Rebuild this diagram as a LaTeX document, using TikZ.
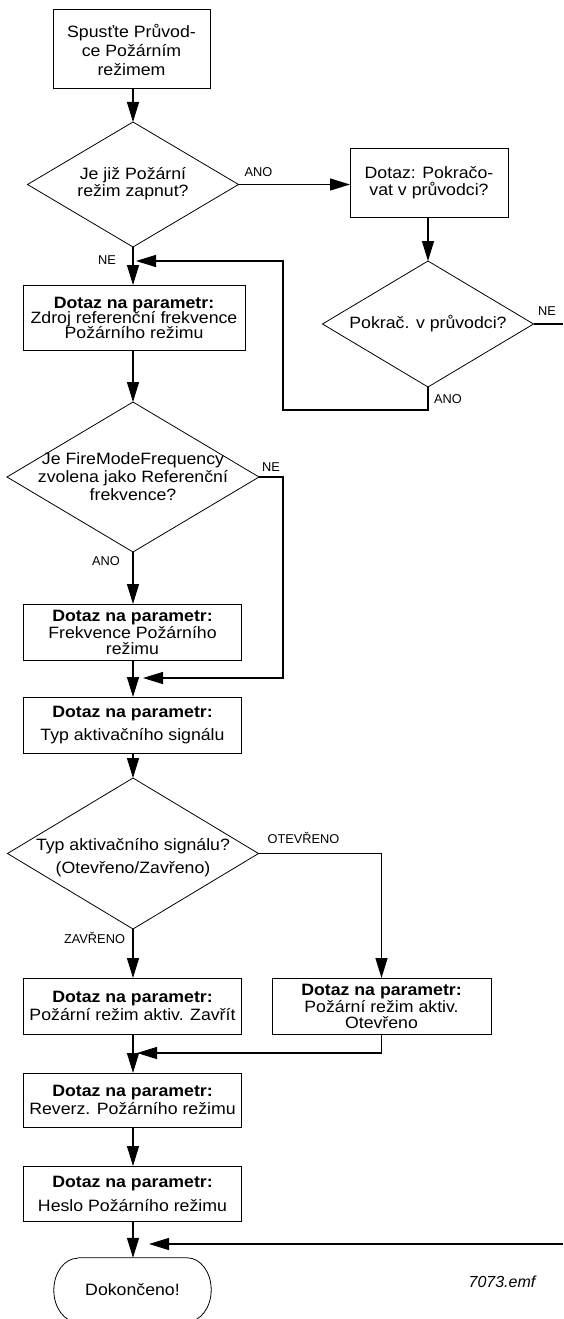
\documentclass[tikz,border=0pt]{standalone}
\usepackage{fontspec}
\usetikzlibrary{shapes.geometric,arrows.meta}
\newfontfamily\mainf{Liberation Sans}[FakeStretch=1.08]
\newfontfamily\labf{Liberation Sans}
\tikzset{
  box/.style={draw, line width=1pt, rectangle, inner sep=0pt, outer sep=0pt, align=center,
    font=\mainf\fontsize{16.4}{17}\selectfont},
  dia/.style={draw, diamond, line width=0.8pt, inner sep=0pt, outer sep=0pt},
  txt/.style={align=center, inner sep=0pt, font=\mainf\fontsize{16.4}{17}\selectfont},
  lab/.style={inner sep=0pt, font=\labf\fontsize{12.8}{14}\selectfont},
  conn/.style={line width=1.3pt},
  arr/.style={conn, -{Triangle[length=20pt,width=12pt]}}
}
\begin{document}
\begin{tikzpicture}[x=1pt,y=-1pt]
\useasboundingbox[fill=white] (0,0) rectangle (563,1319);

% nodes
\node[box, minimum width=157pt, minimum height=79pt] (b1) at (131.5,49.5)
  {Spusťte Průvod-\\[2pt]ce Požárním\\[2pt]režimem};
\node[dia, minimum width=211pt, minimum height=125pt] (d1) at (133,184.5) {};
\node[txt] (d1t) at (133,184) {Je již Požární\\režim zapnut?};
\node[box, minimum width=158pt, minimum height=69pt] (b2) at (429,182.5)
  {Dotaz: Pokračo-\\vat v průvodci?};
\node[dia, minimum width=211pt, minimum height=126pt] (d2) at (428,324) {};
\node[txt] (d2t) at (428,324) {Pokrač. v průvodci?};
\node[box, minimum width=222pt, minimum height=65pt] (b3) at (134,317.5)
  {\textbf{Dotaz na parametr:}\\[-2pt]Zdroj referenční frekvence\\[-2pt]Požárního režimu};
\node[dia, minimum width=252pt, minimum height=150pt] (d3) at (133,477) {};
\node[txt] (d3t) at (133,477) {Je FireModeFrequency\\[1pt]zvolena jako Referenční\\[1pt]frekvence?};
\node[box, minimum width=218pt, minimum height=56pt] (b4) at (132.5,632)
  {\textbf{Dotaz na parametr:}\\Frekvence Požárního\\[-1pt]režimu};
\node[box, minimum width=218pt, minimum height=56pt] (b5) at (132.5,725)
  {\textbf{Dotaz na parametr:}\\[6pt]Typ aktivačního signálu};
\node[dia, minimum width=251pt, minimum height=151pt] (d4) at (133,853.5) {};
\node[txt] (d4t) at (133,858) {Typ aktivačního signálu?\\[6pt](Otevřeno/Zavřeno)};
\node[box, minimum width=218pt, minimum height=56pt] (b6) at (132.5,1006)
  {\textbf{Dotaz na parametr:}\\[1pt]Požární režim aktiv. Zavřít};
\node[box, minimum width=219pt, minimum height=56pt] (b8) at (381.5,1006)
  {\textbf{Dotaz na parametr:}\\Požární režim aktiv.\\[-1pt]Otevřeno};
\node[box, minimum width=218pt, minimum height=54pt] (b7) at (132.5,1100)
  {\textbf{Dotaz na parametr:}\\[1pt]Reverz. Požárního režimu};
\node[box, minimum width=218pt, minimum height=55pt] (b9) at (132.5,1193.5)
  {\textbf{Dotaz na parametr:}\\[7pt]Heslo Požárního režimu};
\node[txt, minimum width=157pt, minimum height=64pt] (t1) at (132.5,1290) {Dokončeno!};
\draw[line width=0.8pt] ([xshift=24pt]t1.north west) -- ([xshift=-24pt]t1.north east)
  arc[start angle=90, end angle=-90, x radius=24pt, y radius=32pt]
  -- ([xshift=24pt]t1.south west)
  arc[start angle=270, end angle=90, x radius=24pt, y radius=32pt];

\node[inner sep=0pt, font=\labf\itshape\fontsize{16}{18}\selectfont] (fn) at (502,1282) {7073.emf};

% labels
\node[lab] (l1) at (258.5,172.5) {ANO};
\node[lab] (l2) at (107,260) {NE};
\node[lab] (l3) at (547,311) {NE};
\node[lab] (l4) at (448,399) {ANO};
\node[lab] (l5) at (271,467) {NE};
\node[lab] (l6) at (106,561) {ANO};
\node[lab] (l7) at (303.5,837.5) {OTEVŘENO};
\node[lab] (l8) at (94.5,938) {ZAVŘENO};

% junction coordinates
\coordinate (j1) at (136,261);
\coordinate (j2) at (143,678);
\coordinate (j3) at (137,1053);
\coordinate (j4) at (149,1244);
\coordinate (e1) at (563,324);
\coordinate (e2) at (563,1244);

% connectors
\draw[arr] (b1.south -| d1.north) -- (d1.north);
\draw[arr] (d1.east) -- (d1.east -| b2.west);
\draw[arr] (b2.south -| d2.north) -- (d2.north);
\draw[conn] (d2.east) -- (e1);
\draw[arr] (d2.south) -- ++(0,23) -| (283,261) -- (j1);
\draw[arr] (d1.south) -- (d1.south |- b3.north);
\draw[arr] (b3.south -| d3.north) -- (d3.north);
\draw[arr] (d3.south) -- (d3.south |- b4.north);
\draw[arr] (d3.east) -| (283,678) -- (j2);
\draw[arr] (b4.south -| d3.south) -- (d3.south |- b5.north);
\draw[arr] (b5.south -| d4.north) -- (d4.north);
\draw[arr] (d4.south) -- (d4.south |- b6.north);
\draw[arr] (d4.east) -| (b8.north);
\draw[arr] (b6.south -| d4.south) -- (d4.south |- b7.north);
\draw[arr] (b8.south) |- (j3);
\draw[arr] (b7.south -| d4.south) -- (d4.south |- b9.north);
\draw[arr] (b9.south -| d4.south) -- (d4.south |- t1.north);
\draw[arr] (e2) -- (j4);
\end{tikzpicture}
\end{document}
